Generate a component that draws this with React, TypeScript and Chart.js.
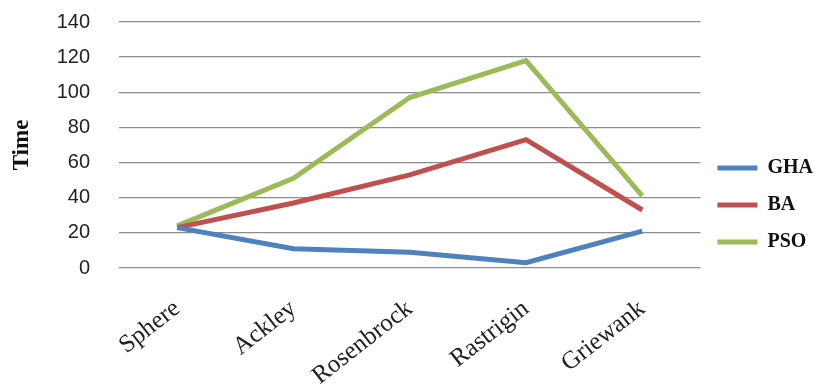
import React, { useEffect, useRef } from "react";
import { Chart, registerables } from "chart.js";

Chart.register(...registerables);

const categories = ["Sphere", "Ackley", "Rosenbrock", "Rastrigin", "Griewank"];
const ghaValues = [23, 11, 9, 3, 21];
const baValues = [23, 37, 53, 73, 33];
const psoValues = [24, 51, 97, 118, 41];
const seriesNames = ["GHA", "BA", "PSO"];
const seriesColors = ["#4F81BD", "#C0504D", "#9BBB59"];
const yMin = 0;
const yMax = 140;
const yStep = 20;
const yTitle = "Time";

export default function App() {
  const canvasRef = useRef<HTMLCanvasElement | null>(null);

  useEffect(() => {
    document.body.style.margin = "0";
    const canvas = canvasRef.current;
    if (!canvas) return;
    const seriesValues = [ghaValues, baValues, psoValues];
    const chart = new Chart(canvas, {
      type: "line",
      data: {
        labels: categories,
        datasets: seriesNames.map((name, i) => ({
          label: name,
          data: seriesValues[i],
          borderColor: seriesColors[i],
          backgroundColor: seriesColors[i],
          borderWidth: 5,
          pointRadius: 0,
          pointHoverRadius: 0,
          pointStyle: "line",
          tension: 0,
          fill: false,
        })),
      },
      options: {
        animation: false,
        responsive: true,
        maintainAspectRatio: false,
        layout: { padding: { top: 22, right: 0, bottom: 0, left: 0 } },
        plugins: {
          tooltip: { enabled: false },
          legend: {
            position: "right",
            align: "center",
            title: {
              display: true,
              text: " ",
              padding: 0,
              font: { size: 10, lineHeight: 0.3 },
            },
            labels: {
              usePointStyle: true,
              pointStyle: "line",
              pointStyleWidth: 40,
              boxHeight: 20,
              padding: 17,
              color: "#111",
              font: { family: "'Liberation Serif', 'Times New Roman', serif", size: 20, weight: "bold", lineHeight: 1 },
            },
          },
        },
        scales: {
          x: {
            offset: true,
            grid: { display: false },
            border: { display: false },
            ticks: {
              autoSkip: false,
              minRotation: 38,
              maxRotation: 38,
              padding: 18,
              color: "#222",
              font: { family: "'Liberation Serif', 'Times New Roman', serif", size: 25 },
            },
            afterFit: (scale: any) => {
              scale.height = 117;
            },
          },
          y: {
            min: yMin,
            max: yMax,
            grid: { color: "#8c8c8c", lineWidth: 1.3, drawTicks: false },
            border: { display: false },
            ticks: {
              stepSize: yStep,
              padding: 29,
              color: "#222",
              font: { family: "'Liberation Sans', Arial, sans-serif", size: 20 },
            },
            title: {
              display: true,
              text: yTitle,
              color: "#111",
              padding: { top: 8, bottom: 0 },
              font: { family: "'Liberation Serif', 'Times New Roman', serif", size: 23, weight: "bold" },
            },
            afterFit: (scale: any) => {
              scale.width = 119;
              scale.paddingTop = 0;
              scale.paddingBottom = 0;
            },
          },
        },
      },
    });
    return () => {
      chart.destroy();
    };
  }, []);

  return (
    <div style={{ position: "relative", width: 823, height: 385 }}>
      <canvas ref={canvasRef} />
    </div>
  );
}
